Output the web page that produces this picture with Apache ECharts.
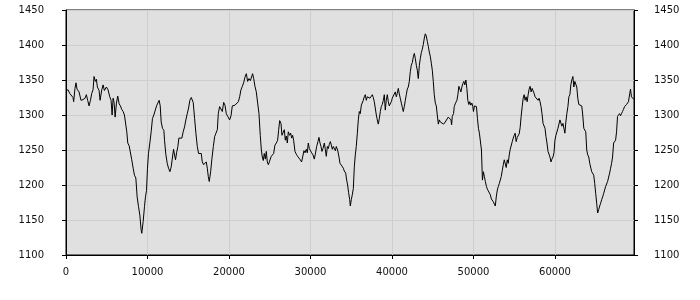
<!DOCTYPE html>
<html>
<head>
<meta charset="utf-8">
<script src="https://cdn.jsdelivr.net/npm/echarts@6/dist/echarts.min.js"></script>
<style>html,body{margin:0;padding:0;background:#fff}#c{width:700px;height:300px}</style>
</head>
<body>
<div id="c"></div>
<script>
var xValues = [0,250,450,650,860,940,1100,1230,1350,1600,1840,2090,2340,2500,2660,2830,3000,3160,3320,3440,3600,3730,3850,4060,4180,4390,4550,4710,4960,5160,5370,5530,5660,5780,5900,6030,6190,6350,6520,6680,6840,7010,7170,7330,7460,7580,7750,7910,8070,8240,8400,8570,8730,8900,9060,9220,9300,9470,9630,9750,9880,10000,10120,10290,10450,10610,10780,10940,11110,11270,11430,11560,11680,11840,12010,12090,12250,12420,12580,12750,12910,13070,13200,13320,13440,13570,13730,13850,14060,14220,14380,14550,14710,14880,15040,15200,15370,15490,15610,15780,15940,16110,16270,16430,16600,16720,16890,17050,17210,17340,17460,17580,17750,17910,18080,18240,18400,18570,18690,18850,19020,19180,19350,19510,19670,19840,
19920,20080,20250,20410,20570,20740,20980,21150,21310,21470,21640,21800,21960,22130,22290,22450,22620,22780,22900,23030,23190,23350,23520,23680,23840,23970,24090,24210,24330,24460,24580,24700,24830,24950,25070,25190,25360,25480,25640,25810,25970,26090,26220,26380,26500,26630,26790,26910,27030,27160,27280,27440,27570,27690,27810,27930,28100,28260,28420,28590,28750,28910,29040,29200,29330,29490,29610,29730,29860,29980,30140,30310,30470,30590,30760,30920,31040,31170,31290,31410,31530,31700,31820,31940,32070,32190,32310,32440,32560,32680,32800,32920,33050,33170,33330,33500,33620,33740,33870,34030,34150,34320,34440,34560,34680,34810,34890,35010,35130,35260,35380,35500,35620,35750,35870,35990,36110,36240,36360,36480,36600,36730,36850,36970,37140,37300,37460,37590,37710,37830,37950,38080,38200,38320,38450,38570,38690,38810,38940,39060,39180,39300,39430,39550,39670,39790,39920,40040,40160,40280,40410,40530,40650,40780,40900,41020,41150,41270,41390,41510,41640,41760,41880,42000,42130,42250,42370,42500,42620,42740,42860,42990,43110,43230,43360,43480,43600,43720,43850,43970,44090,44210,44340,44460,44580,44700,44830,44950,45070,45190,45320,45440,45560,45690,45810,
45930,46140,46340,46540,46750,46910,47070,47240,47320,47400,47560,47640,47800,47970,48090,48210,48330,48460,48580,48700,48820,48940,49070,49190,49310,49430,49550,49670,49800,49920,50000,50120,50240,50370,50490,50610,50730,50850,50980,51100,51220,51340,51460,51590,51710,51830,51950,52070,52200,52320,52440,52560,52680,52800,52930,53050,53170,53290,53410,53540,53660,53780,53900,54020,54150,54270,54390,54510,54630,54760,54880,55000,55120,55240,55370,55490,55610,55730,55850,55980,56100,56220,56340,56460,56590,56710,56830,56950,57070,57200,57320,57440,57560,57680,57800,57930,58050,58170,58290,58410,58540,58660,58780,58900,59020,59150,59270,59390,59510,59630,59760,59880,60000,60120,60240,60370,60490,60610,60730,60850,60980,61100,61220,61340,61460,61590,61710,61830,61950,62070,62200,62320,62440,62560,62680,62800,62930,63050,63170,63290,63410,63540,63660,63780,63900,64020,64150,64270,64390,64510,64630,64760,64880,65000,65120,65240,65370,65490,65610,65730,65850,65980,66100,66220,66340,66460,66590,66710,66830,66950,67070,67200,67320,67440,67560,67680,67800,67930,68050,68170,68290,68410,68540,68660,68780,68900,69020,69150,69270,69390,69510,69700];
var yValues = [1335,1336,1331,1329,1325,1319,1338,1346,1337,1333,1321,1322,1324,1329,1321,1313,1321,1331,1336,1355,1348,1351,1340,1335,1321,1336,1343,1335,1340,1336,1326,1321,1300,1324,1318,1297,1317,1327,1316,1313,1308,1305,1300,1298,1276,1260,1256,1255,1236,1224,1214,1210,1183,1169,1157,1136,1131,1148,1169,1183,1192,1224,1245,1260,1276,1295,1300,1302,1313,1317,1321,1313,1290,1281,1278,1264,1244,1231,1224,1219,1226,1240,1251,1243,1236,1246,1255,1267,1265,1267,1276,1283,1293,1302,1310,1321,1325,1326,1318,1295,1274,1255,1245,1243,1245,1233,1229,1231,1233,1224,1212,1205,1219,1238,1255,1269,1274,1279,1302,1312,1313,1305,1318,1314,1302,1298,
1298,1293,1299,1313,1312,1314,1314,1319,1326,1336,1341,1346,1354,1359,1348,1352,1349,1351,1359,1352,1341,1333,1317,1302,1271,1250,1240,1235,1245,1237,1248,1233,1229,1233,1231,1241,1243,1245,1257,1260,1264,1278,1292,1288,1271,1269,1279,1264,1270,1260,1276,1271,1274,1267,1271,1264,1248,1244,1241,1240,1236,1233,1240,1249,1246,1251,1246,1260,1252,1250,1246,1243,1237,1244,1255,1262,1268,1260,1255,1248,1252,1260,1251,1241,1255,1252,1258,1262,1257,1251,1255,1256,1249,1255,1250,1240,1231,1232,1227,1224,1220,1217,1207,1200,1189,1179,1170,1179,1186,1195,1226,1243,1255,1274,1293,1305,1302,1314,1313,1321,1326,1329,1321,1326,1325,1324,1326,1329,1325,1319,1310,1300,1293,1287,1295,1305,1312,1315,1321,1329,1307,1321,1329,1319,1313,1314,1319,1324,1326,1330,1333,1326,1331,1338,1330,1324,1317,1311,1305,1312,1321,1329,1337,1340,1348,1362,1371,1375,1383,1388,1381,1371,1364,1352,1371,1381,1389,1394,1401,1410,1416,1413,1405,1398,1390,1384,1374,1364,1348,1329,1317,1313,1300,1287,1293,
1290,1292,1287,1290,1288,1297,1298,1293,1286,1298,1302,1312,1317,1321,1329,1341,1343,1333,1340,1345,1348,1343,1350,1338,1321,1315,1319,1314,1317,1312,1305,1313,1314,1312,1295,1281,1274,1276,1250,1207,1219,1212,1205,1198,1194,1195,1193,1186,1180,1179,1176,1176,1170,1183,1193,1198,1202,1207,1212,1221,1229,1236,1237,1225,1236,1231,1243,1251,1250,1262,1267,1271,1274,1262,1268,1267,1273,1282,1298,1312,1324,1329,1321,1326,1319,1329,1337,1341,1333,1338,1338,1331,1326,1324,1327,1321,1324,1319,1312,1302,1288,1287,1281,1269,1260,1248,1248,1240,1233,1237,1240,1246,1264,1271,1269,1281,1281,1293,1294,1284,1288,1290,1274,1290,1302,1312,1326,1329,1343,1350,1355,1340,1348,1350,1340,1324,1315,1314,1315,1313,1300,1281,1283,1276,1250,1243,1240,1231,1229,1219,1217,1214,1202,1188,1174,1160,1165,1170,1174,1179,1183,1188,1193,1198,1200,1205,1207,1217,1224,1231,1240,1260,1262,1264,1276,1298,1300,1302,1299,1302,1305,1308,1312,1313,1315,1313,1319,1321,1337,1326,1325,1322];
var yTicks = [1100,1150,1200,1250,1300,1350,1400,1450];
var xTickStep = 10000;

var seriesData = xValues.map(function (x, i) { return [x, yValues[i]]; });
var chart = echarts.init(document.getElementById('c'), null, {renderer: 'canvas'});
var labelFont = {fontFamily: 'DejaVu Sans', fontSize: 10, color: '#111'};
function yAxisCfg(pos, split, margin) {
  return {
    type: 'value', position: pos,
    min: yTicks[0], max: yTicks[yTicks.length - 1], interval: 50,
    axisLine: {show: true, lineStyle: {color: '#000', width: 1}},
    axisTick: {show: true, length: 4, lineStyle: {color: '#000'}},
    axisLabel: Object.assign({margin: margin, formatter: function (v) { return String(v); }}, labelFont),
    splitLine: {show: split, lineStyle: {color: '#cecece', width: 1}}
  };
}
chart.setOption({
  animation: false,
  backgroundColor: '#fff',
  grid: {left: 66, right: 66, top: 10, bottom: 45, show: true, backgroundColor: '#e0e0e0', borderColor: '#000', borderWidth: 1},
  xAxis: {
    type: 'value', min: 0, max: 'dataMax', interval: xTickStep,
    axisLine: {show: true, onZero: false, lineStyle: {color: '#000', width: 1}},
    axisTick: {show: true, length: 4, lineStyle: {color: '#000'}},
    axisLabel: Object.assign({margin: 12, showMaxLabel: false, formatter: function (v) { return v % xTickStep === 0 ? String(v) : ''; }}, labelFont),
    splitLine: {show: true, lineStyle: {color: '#cecece', width: 1}}
  },
  yAxis: [yAxisCfg('left', true, 22), yAxisCfg('right', false, 20)],
  series: [{
    type: 'line', data: seriesData, yAxisIndex: 0,
    showSymbol: false, symbol: 'none',
    lineStyle: {color: '#000', width: 1},
    itemStyle: {color: '#000'}
  }]
});
</script>
</body>
</html>
